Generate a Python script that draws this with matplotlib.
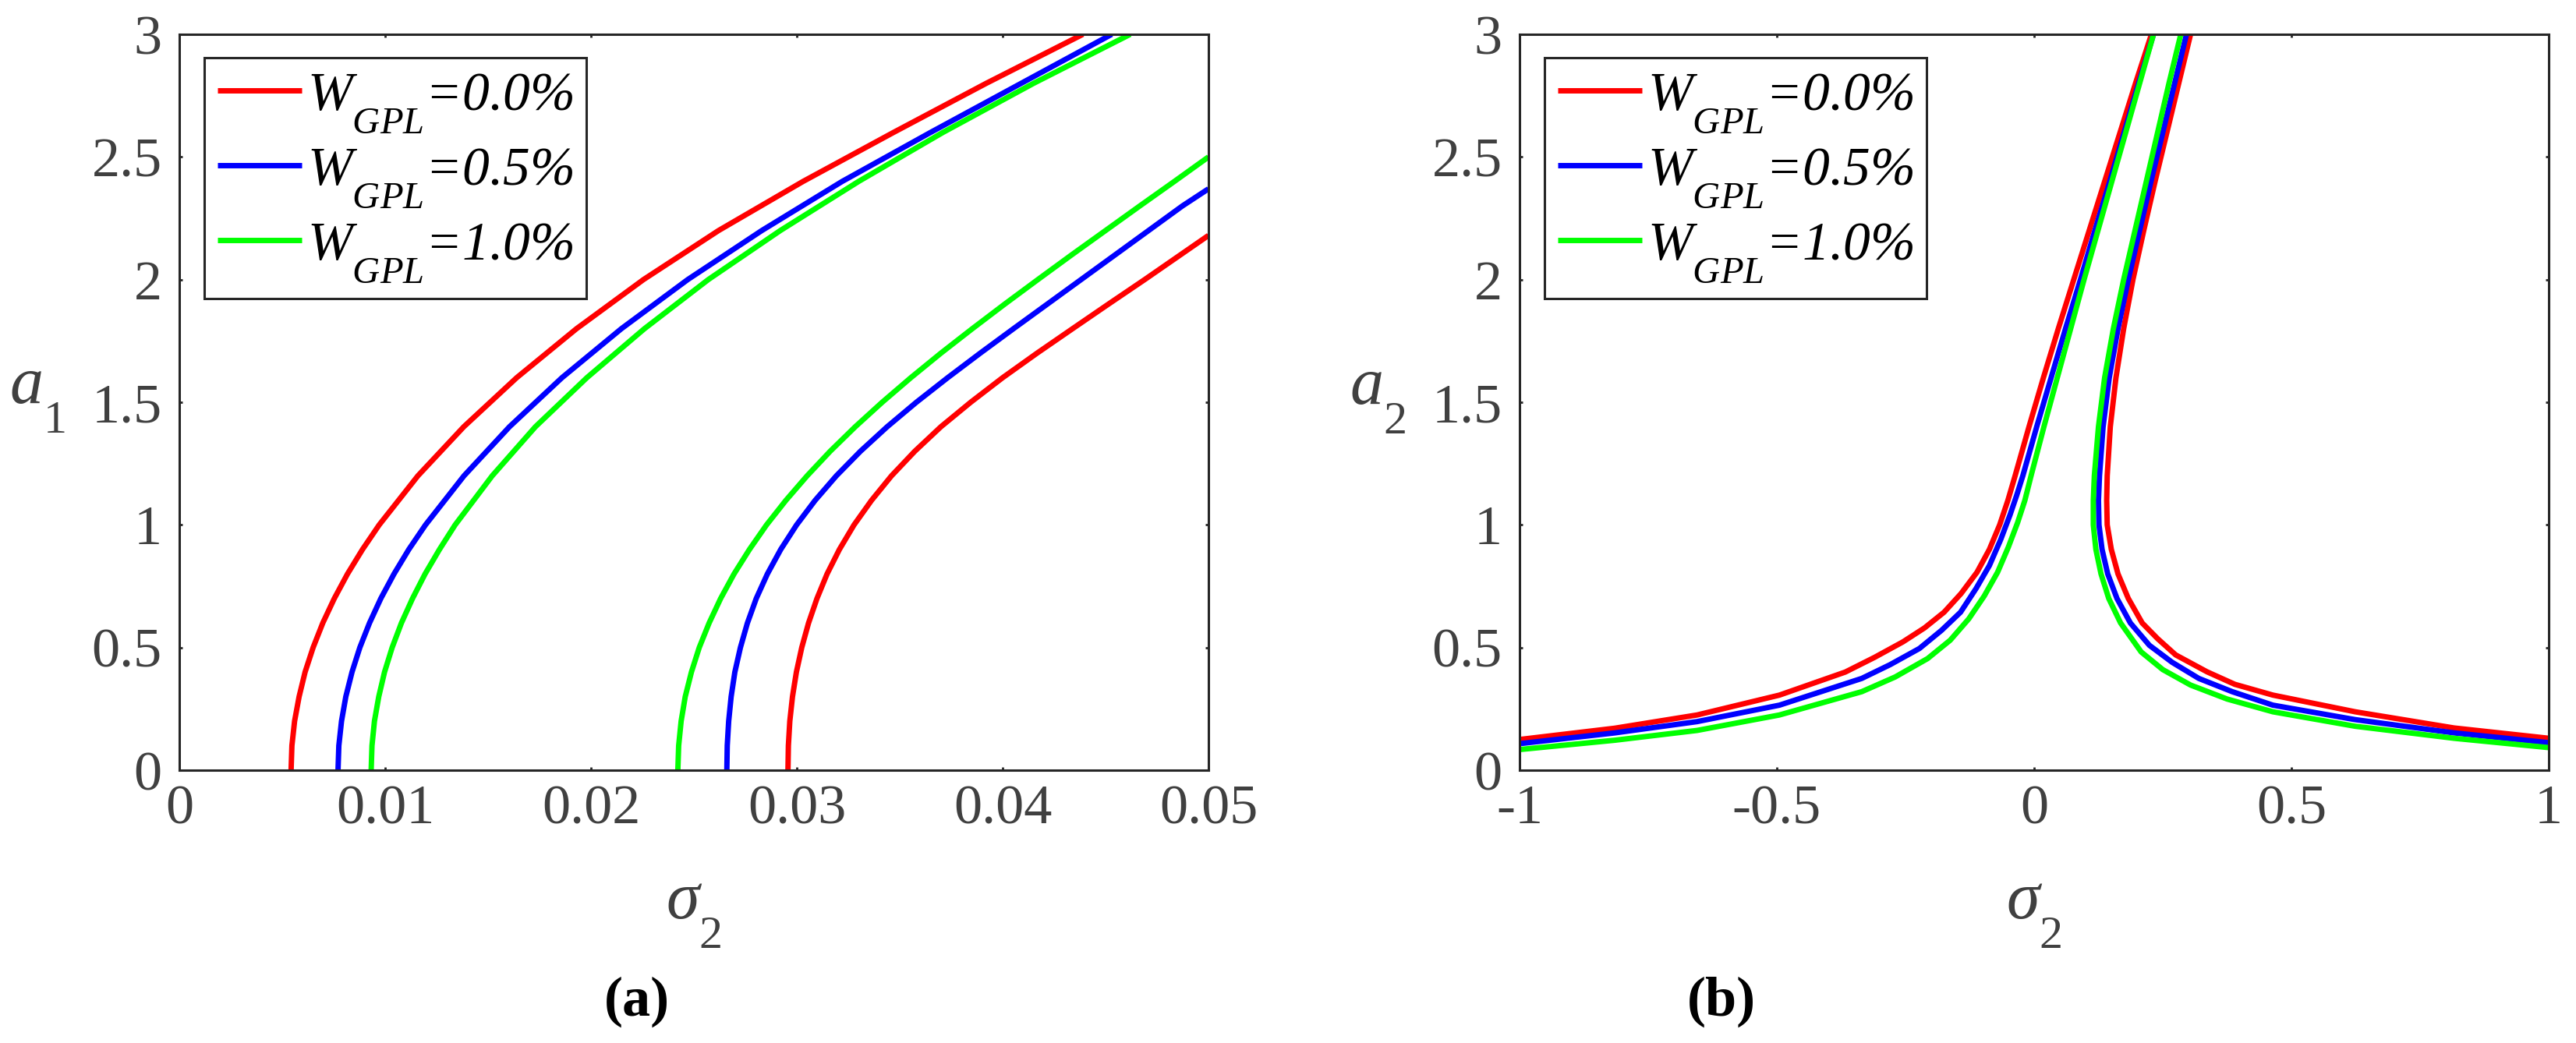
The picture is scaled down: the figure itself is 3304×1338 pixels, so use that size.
import numpy as np
import matplotlib
matplotlib.use("Agg")
import matplotlib.pyplot as plt

plt.rcParams["font.family"] = ["Liberation Serif", "DejaVu Serif"]
plt.rcParams["mathtext.fontset"] = "custom"
plt.rcParams["mathtext.rm"] = "Liberation Serif"
plt.rcParams["mathtext.it"] = "Liberation Serif:italic"
plt.rcParams["mathtext.bf"] = "Liberation Serif:bold"
plt.rcParams["axes.unicode_minus"] = False

# MATLAB-style subscripts sit much lower than mathtext's default
try:
    import matplotlib._mathtext as _mt
    _mt.FontConstantsBase.sub1 = 0.95
except Exception:
    pass

# ---- data ----
labels = [r"$W_{GPL}$=0.0%", r"$W_{GPL}$=0.5%", r"$W_{GPL}$=1.0%"]
colours = ["#ff0000", "#0000ff", "#00ff00"]

# panel (a): amplitude a1 against sigma2, left and right branches
a_left_amp = [0, 0.1, 0.2, 0.3, 0.4, 0.5, 0.6, 0.7, 0.8, 0.9, 1.0,
              1.2, 1.4, 1.6, 1.8, 2.0, 2.2, 2.4, 2.6, 2.8, 3.0]
a_left_sig = [
    [0.00543, 0.00547, 0.0056, 0.00582, 0.00611, 0.0065, 0.00697, 0.00753, 0.00817,
     0.0089, 0.00971, 0.01159, 0.01382, 0.01639, 0.0193, 0.02255, 0.0262, 0.0303,
     0.0347, 0.0392, 0.0439],
    [0.00771, 0.00775, 0.00788, 0.00809, 0.00839, 0.00877, 0.00924, 0.00979, 0.01043,
     0.01115, 0.01196, 0.01383, 0.01604, 0.01859, 0.02148, 0.0247, 0.0283, 0.0322,
     0.0365, 0.0409, 0.0453],
    [0.00932, 0.00936, 0.00948, 0.00969, 0.00997, 0.01034, 0.01079, 0.01133, 0.01194,
     0.01264, 0.0134, 0.0152, 0.0173, 0.0198, 0.0226, 0.0257, 0.0292, 0.0330,
     0.0371, 0.0415, 0.0462],
]
a_right_amp = [
    [0, 0.1, 0.2, 0.3, 0.4, 0.5, 0.6, 0.7, 0.8, 0.9, 1.0, 1.1, 1.2, 1.3, 1.4, 1.5,
     1.6, 1.7, 1.8, 1.9, 2.0, 2.09, 2.18],
    [0, 0.1, 0.2, 0.3, 0.4, 0.5, 0.6, 0.7, 0.8, 0.9, 1.0, 1.1, 1.2, 1.3, 1.4, 1.5,
     1.6, 1.7, 1.8, 1.9, 2.0, 2.1, 2.2, 2.3, 2.37],
    [0, 0.1, 0.2, 0.3, 0.4, 0.5, 0.6, 0.7, 0.8, 0.9, 1.0, 1.1, 1.2, 1.3, 1.4, 1.5,
     1.6, 1.7, 1.8, 1.9, 2.0, 2.1, 2.2, 2.3, 2.4, 2.5],
]
a_right_sig = [
    [0.02957, 0.02959, 0.02966, 0.02979, 0.02998, 0.03024, 0.03057, 0.03098, 0.03147,
     0.03207, 0.03278, 0.03363, 0.0346, 0.03573, 0.0370, 0.03845, 0.0400, 0.04167,
     0.0434, 0.04514, 0.0469, 0.04845, 0.0500],
    [0.0266, 0.02662, 0.02669, 0.02681, 0.02699, 0.02726, 0.0276, 0.02803, 0.02857,
     0.02922, 0.02999, 0.03089, 0.03192, 0.03309, 0.03439, 0.03581, 0.03733, 0.03891,
     0.04053, 0.04217, 0.04381, 0.04545, 0.04709, 0.04873, 0.0500],
    [0.02422, 0.02426, 0.02438, 0.02458, 0.02488, 0.02526, 0.02574, 0.0263, 0.02695,
     0.0277, 0.02853, 0.02947, 0.0305, 0.03162, 0.03284, 0.03415, 0.03554, 0.037,
     0.03853, 0.0401, 0.04171, 0.04334, 0.045, 0.04666, 0.04834, 0.0500],
]

# panel (b): amplitude a2 against sigma2
b_left_sig = [
    [-1.0, -0.815, -0.655, -0.495, -0.367, -0.31, -0.255, -0.213, -0.175, -0.142,
     -0.111, -0.087, -0.067, -0.051, -0.037, -0.010, 0.018, 0.047, 0.077, 0.107,
     0.137, 0.167, 0.197, 0.228],
    [-1.0, -0.815, -0.655, -0.495, -0.335, -0.28, -0.223, -0.18, -0.143, -0.113,
     -0.087, -0.065, -0.047, -0.034, -0.022, 0.005, 0.033, 0.061, 0.090, 0.118,
     0.147, 0.175, 0.203, 0.232],
    [-1.0, -0.815, -0.655, -0.495, -0.335, -0.27, -0.207, -0.163, -0.127, -0.097,
     -0.071, -0.050, -0.032, -0.018, -0.006, 0.019, 0.045, 0.071, 0.097, 0.124,
     0.151, 0.178, 0.205, 0.232],
]
b_left_amp = [
    [0.125, 0.171, 0.225, 0.306, 0.40, 0.46, 0.523, 0.58, 0.644, 0.72, 0.807, 0.90,
     1.0, 1.1, 1.2, 1.4, 1.6, 1.8, 2.0, 2.2, 2.4, 2.6, 2.8, 3.0],
    [0.108, 0.152, 0.198, 0.265, 0.374, 0.43, 0.496, 0.57, 0.644, 0.74, 0.834, 0.94,
     1.04, 1.12, 1.2, 1.4, 1.6, 1.8, 2.0, 2.2, 2.4, 2.6, 2.8, 3.0],
    [0.084, 0.122, 0.162, 0.225, 0.32, 0.38, 0.455, 0.53, 0.617, 0.71, 0.807, 0.91,
     1.01, 1.1, 1.2, 1.4, 1.6, 1.8, 2.0, 2.2, 2.4, 2.6, 2.8, 3.0],
]
b_right_sig = [
    [0.304, 0.281, 0.258, 0.235, 0.213, 0.192, 0.174, 0.159, 0.148, 0.142, 0.141,
     0.142, 0.150, 0.163, 0.183, 0.21, 0.240, 0.275, 0.336, 0.39, 0.464, 0.624,
     0.816, 1.0],
    [0.296, 0.273, 0.250, 0.227, 0.205, 0.183, 0.163, 0.146, 0.134, 0.127, 0.125,
     0.126, 0.132, 0.143, 0.161, 0.187, 0.224, 0.268, 0.320, 0.385, 0.464, 0.624,
     0.816, 1.0],
    [0.285, 0.262, 0.240, 0.218, 0.196, 0.174, 0.154, 0.137, 0.125, 0.117, 0.115,
     0.115, 0.120, 0.130, 0.145, 0.168, 0.208, 0.250, 0.304, 0.375, 0.464, 0.624,
     0.816, 1.0],
]
b_right_amp = [
    [3.0, 2.8, 2.6, 2.4, 2.2, 2.0, 1.8, 1.6, 1.4, 1.2, 1.1, 1.0, 0.9, 0.8, 0.7, 0.6,
     0.536, 0.47, 0.401, 0.35, 0.306, 0.238, 0.172, 0.13],
    [3.0, 2.8, 2.6, 2.4, 2.2, 2.0, 1.8, 1.6, 1.4, 1.2, 1.1, 1.0, 0.9, 0.8, 0.7, 0.6,
     0.509, 0.44, 0.374, 0.32, 0.265, 0.206, 0.152, 0.112],
    [3.0, 2.8, 2.6, 2.4, 2.2, 2.0, 1.8, 1.6, 1.4, 1.2, 1.1, 1.0, 0.9, 0.8, 0.7, 0.6,
     0.482, 0.41, 0.347, 0.29, 0.238, 0.179, 0.130, 0.092],
]

a_xticks = [0, 0.01, 0.02, 0.03, 0.04, 0.05]
a_xticklabels = ["0", "0.01", "0.02", "0.03", "0.04", "0.05"]
b_xticks = [-1, -0.5, 0, 0.5, 1]
b_xticklabels = ["-1", "-0.5", "0", "0.5", "1"]
yticks = [0, 0.5, 1, 1.5, 2, 2.5, 3]
yticklabels = ["0", "0.5", "1", "1.5", "2", "2.5", "3"]

tick_grey = "#404040"
axis_dark = "#262626"

fig = plt.figure(figsize=(33.04, 13.38), dpi=100)
ax_a = fig.add_axes([230 / 3304, 350 / 1338, 1320 / 3304, 944 / 1338])
ax_b = fig.add_axes([1949 / 3304, 350 / 1338, 1320 / 3304, 944 / 1338])


def style_axes(ax, xticks, xticklabels, xlim, ylab):
    ax.set_xlim(xlim)
    ax.set_ylim(0, 3)
    ax.set_xticks(xticks)
    ax.set_xticklabels(xticklabels)
    ax.set_yticks(yticks)
    ax.set_yticklabels(yticklabels)
    ax.tick_params(direction="in", top=True, right=True, length=3, width=2,
                   colors=axis_dark, labelcolor=tick_grey, labelsize=52)
    ax.tick_params(axis="x", pad=13)
    ax.tick_params(axis="y", pad=16)
    for s in ax.spines.values():
        s.set_linewidth(2.2)
        s.set_color(axis_dark)
    ax.set_xlabel(r"$\sigma_2$", fontsize=62, color=tick_grey, va="center")
    ax.xaxis.set_label_coords(0.5, -0.198)
    ax.set_ylabel(ylab, fontsize=62, color=tick_grey, rotation=0,
                  va="center", ha="center")
    ax.yaxis.set_label_coords(-0.138, 0.5)
    leg = ax.legend(loc="upper left", bbox_to_anchor=(0.024, 0.968), borderaxespad=0,
                    prop={"family": "Liberation Serif", "style": "italic", "size": 50},
                    handlelength=1.55, handletextpad=0.1, labelspacing=0.22,
                    borderpad=0.25, fancybox=False, framealpha=1,
                    edgecolor=axis_dark)
    leg.get_frame().set_linewidth(2.2)


for i in range(3):
    ax_a.plot(a_left_sig[i], a_left_amp, color=colours[i], lw=5,
              label=labels[i], solid_capstyle="butt", solid_joinstyle="round")
    ax_a.plot(a_right_sig[i], a_right_amp[i], color=colours[i], lw=5,
              solid_capstyle="butt", solid_joinstyle="round")
    ax_b.plot(b_left_sig[i], b_left_amp[i], color=colours[i], lw=5,
              label=labels[i], solid_capstyle="butt", solid_joinstyle="round")
    ax_b.plot(b_right_sig[i], b_right_amp[i], color=colours[i], lw=5,
              solid_capstyle="butt", solid_joinstyle="round")

style_axes(ax_a, a_xticks, a_xticklabels, (0, 0.05), r"$a_1$")
style_axes(ax_b, b_xticks, b_xticklabels, (-1, 1), r"$a_2$")

fig.text(817 / 3304, 1 - 1285 / 1338, "(a)", fontsize=52, fontweight="bold",
         ha="center", va="center")
fig.text(2208 / 3304, 1 - 1285 / 1338, "(b)", fontsize=52, fontweight="bold",
         ha="center", va="center")

fig.savefig("out.png", dpi=100)
